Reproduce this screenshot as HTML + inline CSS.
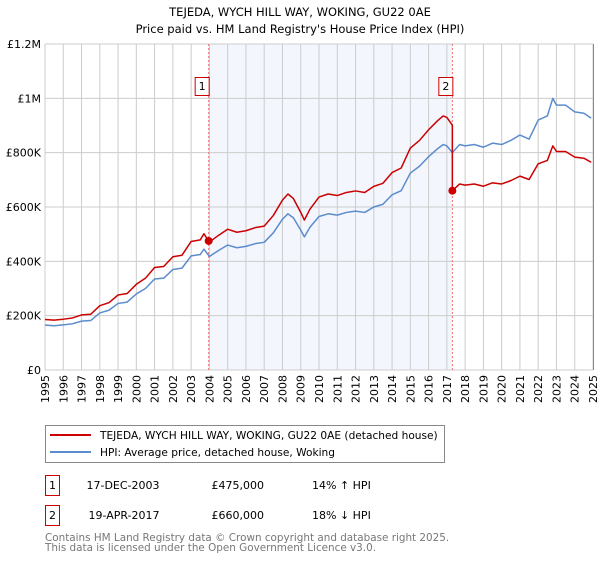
<!DOCTYPE html>
<html><head><meta charset="utf-8">
<style>
body{margin:0;background:#fff;font-family:"DejaVu Sans","Liberation Sans",sans-serif;}
svg text{font-family:"DejaVu Sans","Liberation Sans",sans-serif;}
</style></head>
<body>
<svg width="600" height="560" viewBox="0 0 600 560">
<text x="300" y="16" text-anchor="middle" font-size="11.5">TEJEDA, WYCH HILL WAY, WOKING, GU22 0AE</text>
<text x="300" y="33" text-anchor="middle" font-size="11.5">Price paid vs. HM Land Registry's House Price Index (HPI)</text>
<g id="plot"></g>
<g>
<rect x="45.5" y="425.5" width="399" height="37" fill="#fff" stroke="#888"/>
<line x1="50" y1="435" x2="91" y2="435" stroke="#cc0000" stroke-width="2"/>
<text x="100" y="439" font-size="10.6">TEJEDA, WYCH HILL WAY, WOKING, GU22 0AE (detached house)</text>
<line x1="50" y1="452" x2="91" y2="452" stroke="#5b8ccc" stroke-width="2"/>
<text x="100" y="456" font-size="10.6">HPI: Average price, detached house, Woking</text>
</g>
<g font-size="11">
<rect x="45.5" y="475.5" width="14" height="20" fill="#fff" stroke="#cc0000"/>
<text x="52.5" y="489" text-anchor="middle">1</text>
<text x="123" y="489" text-anchor="middle">17-DEC-2003</text>
<text x="264" y="489" text-anchor="end">£475,000</text>
<text x="312" y="489">14% ↑ HPI</text>
<rect x="45.5" y="505.5" width="14" height="20" fill="#fff" stroke="#cc0000"/>
<text x="52.5" y="519" text-anchor="middle">2</text>
<text x="124" y="519" text-anchor="middle">19-APR-2017</text>
<text x="264" y="519" text-anchor="end">£660,000</text>
<text x="312" y="519">18% ↓ HPI</text>
</g>
<text x="45" y="541" font-size="10.4" fill="#777">Contains HM Land Registry data © Crown copyright and database right 2025.</text>
<text x="45" y="551" font-size="10.4" fill="#777">This data is licensed under the Open Government Licence v3.0.</text>
</svg>
<script>
const hpiDates=[1995,1995.5,1996,1996.5,1997,1997.5,1998,1998.5,1999,1999.5,2000,2000.5,2001,2001.5,2002,2002.5,2003,2003.5,2003.7,2004,2004.5,2005,2005.5,2006,2006.5,2007,2007.5,2008,2008.3,2008.6,2009,2009.2,2009.5,2010,2010.5,2011,2011.5,2012,2012.5,2013,2013.5,2014,2014.5,2015,2015.5,2016,2016.5,2016.8,2017,2017.3,2017.7,2018,2018.5,2019,2019.5,2020,2020.5,2021,2021.5,2022,2022.5,2022.8,2023,2023.5,2024,2024.5,2024.9];
const hpiValues=[165,163,166,170,180,182,210,220,245,250,280,300,335,338,370,375,420,425,445,418,440,460,450,455,465,470,505,555,575,560,515,490,525,565,575,570,580,585,580,600,610,645,660,725,750,785,815,830,825,800,830,825,830,820,835,830,845,865,850,920,935,1000,975,975,950,945,927];
const saleDates=[2003.96,2017.3];
const salePrices=[475,660];
const yTicks=[0,200,400,600,800,1000,1200];
const yLabels=["£0","£200K","£400K","£600K","£800K","£1M","£1.2M"];
const xYears=[1995,1996,1997,1998,1999,2000,2001,2002,2003,2004,2005,2006,2007,2008,2009,2010,2011,2012,2013,2014,2015,2016,2017,2018,2019,2020,2021,2022,2023,2024,2025];

const X0=45,X1=593,Y0=370,Y1=44;
const xs=t=>X0+(t-1995)/30*(X1-X0);
const ys=v=>Y0-v/1200*(Y0-Y1);
const NS="http://www.w3.org/2000/svg";
const g=document.getElementById('plot');
function mk(tag,attrs,parent){const e=document.createElementNS(NS,tag);for(const k in attrs)e.setAttribute(k,attrs[k]);(parent||g).appendChild(e);return e;}
function hpiAt(t){for(let i=0;i<hpiDates.length-1;i++){if(t>=hpiDates[i]&&t<=hpiDates[i+1]){const f=(t-hpiDates[i])/(hpiDates[i+1]-hpiDates[i]);return hpiValues[i]+f*(hpiValues[i+1]-hpiValues[i]);}}return hpiValues[hpiValues.length-1];}

const sh=mk('rect',{x:xs(saleDates[0]),y:Y1,width:xs(saleDates[1])-xs(saleDates[0]),height:Y0-Y1,fill:'#f3f6fd'});


xYears.forEach(y=>{const l=mk('line',{x1:xs(y),x2:xs(y),y1:Y1,y2:Y0,stroke:'#cccccc','stroke-width':1});


const tx=xs(y)+4;const t=mk('text',{x:tx,y:Y0+5,'font-size':11,'text-anchor':'end',transform:`rotate(-90 ${tx} ${Y0+5})`});t.textContent=y;

});
yTicks.forEach((v,i)=>{const l=mk('line',{x1:X0,x2:X1,y1:ys(v),y2:ys(v),stroke:'#cccccc','stroke-width':1});


const t=mk('text',{x:X0-4,y:ys(v)+4,'font-size':11,'text-anchor':'end'});t.textContent=yLabels[i];

});
const rb=mk('line',{x1:X1+0.5,x2:X1+0.5,y1:Y1,y2:Y0,stroke:'#888'});


saleDates.forEach((d,i)=>{const l=mk('line',{x1:xs(d),x2:xs(d),y1:Y1,y2:Y0,stroke:'#f07070','stroke-dasharray':'2,2','stroke-width':1});


const r=mk('rect',{x:xs(d)-13.5,y:77.5,width:14,height:18,fill:'#fff',stroke:'#cc0000'});


const t=mk('text',{x:xs(d)-6.5,y:90,'font-size':11,'text-anchor':'middle'});t.textContent=String(i+1);

});
const hp=mk('polyline',{points:hpiDates.map((d,i)=>xs(d)+','+ys(hpiValues[i])).join(' '),fill:'none',stroke:'#5b8ccc','stroke-width':1.5,'stroke-linejoin':'round'});


const f1=salePrices[0]/hpiAt(saleDates[0]),f2=salePrices[1]/hpiAt(saleDates[1]);
let pts=[];
hpiDates.forEach((d,i)=>{if(d<saleDates[1])pts.push([d,hpiValues[i]*f1]);});
pts.push([saleDates[1],hpiAt(saleDates[1])*f1]);
pts.push([saleDates[1],salePrices[1]]);
hpiDates.forEach((d,i)=>{if(d>saleDates[1])pts.push([d,hpiValues[i]*f2]);});
const pl=mk('polyline',{points:pts.map(p=>xs(p[0])+','+ys(p[1])).join(' '),fill:'none',stroke:'#cc0000','stroke-width':1.5,'stroke-linejoin':'round'});


saleDates.forEach((d,i)=>{const c=mk('circle',{cx:xs(d),cy:ys(salePrices[i]),r:4,fill:'#cc0000'});

});
</script>
</body></html>
